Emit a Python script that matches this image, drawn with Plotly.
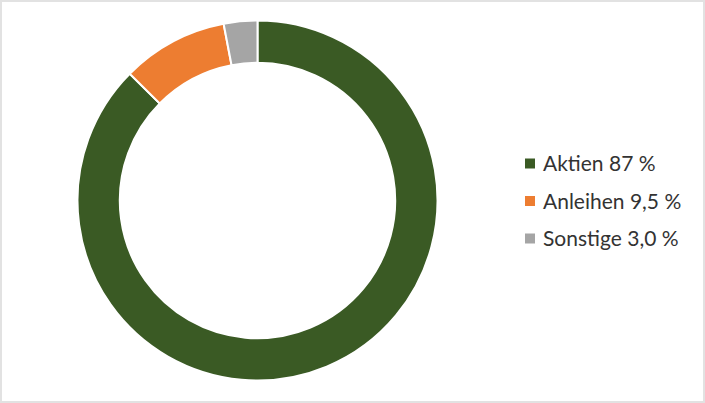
import plotly.graph_objects as go

categories = ["Aktien", "Anleihen", "Sonstige"]
values = [87, 9.5, 3.0]
value_labels = ["87", "9,5", "3,0"]
colors = ["#3a5a24", "#ed7d31", "#a5a5a5"]

W, H = 705, 403
cx, cy, R = 257.5, 200.5, 180

fig = go.Figure()
fig.add_trace(go.Pie(
    labels=categories,
    values=values,
    sort=False,
    direction="clockwise",
    rotation=0,
    hole=0.765,
    marker=dict(colors=colors, line=dict(color="white", width=2)),
    textinfo="none",
    hoverinfo="label+percent",
    showlegend=False,
    domain=dict(x=[(cx - R) / W, (cx + R) / W], y=[(H - cy - R) / H, (H - cy + R) / H]),
))

shapes = [dict(type="rect", xref="paper", yref="paper",
               x0=1 / W, x1=1 - 1 / W, y0=1 / H, y1=1 - 1 / H,
               line=dict(color="#e2e2e2", width=2))]
annotations = []
leg_x = 525
leg_y0 = 163.5
leg_dy = 37.5
for i, (cat, lab, col) in enumerate(zip(categories, value_labels, colors)):
    yc = leg_y0 + i * leg_dy
    shapes.append(dict(type="rect", xref="paper", yref="paper",
                       x0=leg_x / W, x1=(leg_x + 10) / W,
                       y0=(H - yc - 5) / H, y1=(H - yc + 5) / H,
                       fillcolor=col, line=dict(width=0)))
    annotations.append(dict(xref="paper", yref="paper", x=(leg_x + 16) / W, y=(H - yc + 1) / H,
                            xanchor="left", yanchor="middle", showarrow=False,
                            text=f"{cat} {lab} %",
                            font=dict(family="Lato", size=21, color="#333333")))

fig.update_layout(
    width=W, height=H,
    margin=dict(l=0, r=0, t=0, b=0),
    paper_bgcolor="white",
    plot_bgcolor="white",
    shapes=shapes,
    annotations=annotations,
)

fig.write_html("out.html",
               config={"displayModeBar": False},
               post_script="document.body.style.margin='0';document.body.style.padding='0';document.documentElement.style.overflow='hidden';")
